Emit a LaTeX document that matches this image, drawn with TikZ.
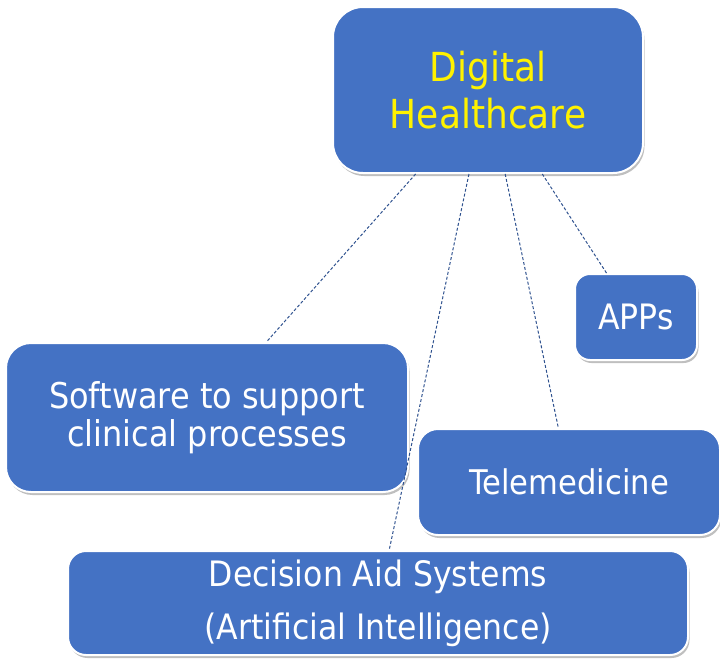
\documentclass[tikz,border=0pt]{standalone}
\usepackage{fontspec}
\setmainfont{DejaVu Sans}[FakeStretch=0.9]
\usetikzlibrary{calc,shadows}
\definecolor{boxblue}{RGB}{68,114,196}
\definecolor{linkblue}{RGB}{47,82,143}
\begin{document}
\begin{tikzpicture}[x=1pt,y=-1pt,
  box/.style={draw=white, line width=2pt, fill=boxblue, text=white, align=center,
    inner sep=0pt, drop shadow={shadow xshift=1.5pt, shadow yshift=-3pt, fill=black, opacity=0.25}},
  link/.style={draw=linkblue, line width=1pt, dash pattern=on 3pt off 2pt}]
\useasboundingbox (0,0) rectangle (720,659);
\node[box, minimum width=310pt, minimum height=166pt, rounded corners=30pt, text=yellow,
  font=\fontsize{40}{47}\selectfont] (dh) at (488,90) {Digital\\Healthcare};
\node[box, minimum width=122pt, minimum height=86pt, rounded corners=15pt,
  font=\fontsize{35}{40}\selectfont] (apps) at (636,317) {APPs};
\node[box, minimum width=402pt, minimum height=149pt, rounded corners=25pt,
  font=\fontsize{35.5}{38}\selectfont] (sw) at (207,417.5) {Software to support\\clinical processes};
\node[box, minimum width=302pt, minimum height=106pt, rounded corners=20pt,
  font=\fontsize{34}{40}\selectfont] (tm) at (569,482) {Telemedicine};
\node[box, minimum width=620pt, minimum height=104pt, rounded corners=18pt,
  font=\fontsize{35}{53}\selectfont] (ds) at (378,603) {Decision Aid Systems\\(Artificial Intelligence)};
\draw[link] ($(dh.south west)!0.268!(dh.south east)$) -- ($(sw.north west)!0.647!(sw.north east)$);
\draw[link] ($(dh.south west)!0.439!(dh.south east)$) -- ($(ds.north west)!0.518!(ds.north east)$);
\draw[link] ($(dh.south west)!0.555!(dh.south east)$) -- ($(tm.north west)!0.465!(tm.north east)$);
\draw[link] ($(dh.south west)!0.674!(dh.south east)$) -- ($(apps.north west)!0.262!(apps.north east)$);
\end{tikzpicture}
\end{document}
